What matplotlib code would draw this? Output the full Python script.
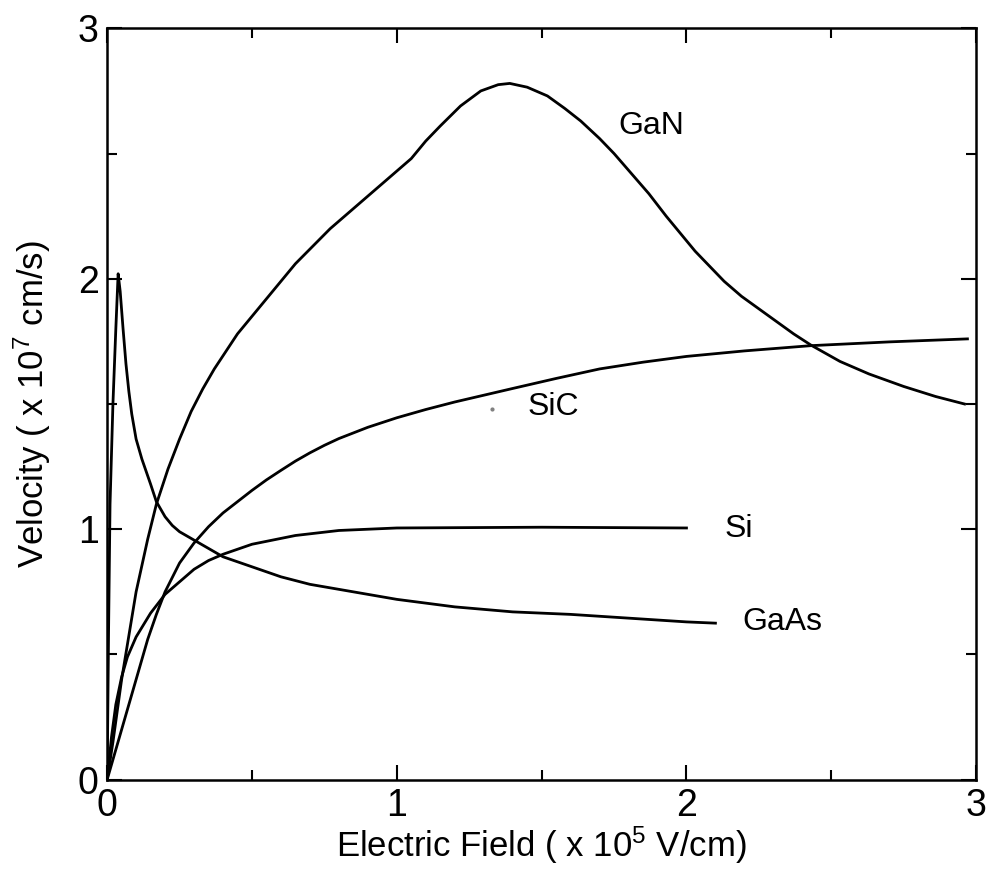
import matplotlib
matplotlib.use("Agg")
import matplotlib.pyplot as plt
from matplotlib.ticker import MultipleLocator

plt.rcParams['font.family'] = ['Liberation Sans', 'DejaVu Sans']
plt.rcParams['mathtext.fontset'] = 'custom'
plt.rcParams['mathtext.rm'] = 'Liberation Sans'
plt.rcParams['mathtext.it'] = 'Liberation Sans:italic'

# Electric field (x 1e5 V/cm) and velocity (x 1e7 cm/s)
gan_field = [0, 0.02, 0.05, 0.1, 0.14, 0.17, 0.21, 0.25, 0.29, 0.33, 0.37,
             0.41, 0.45, 0.5, 0.55, 0.6, 0.65, 0.71, 0.77, 0.83, 0.89, 0.95,
             1.0, 1.05, 1.1, 1.15, 1.22, 1.29, 1.35, 1.39, 1.45, 1.52, 1.58,
             1.635, 1.7, 1.75, 1.81, 1.87, 1.93, 1.98, 2.03, 2.08, 2.13, 2.19,
             2.25, 2.31, 2.37, 2.43, 2.53, 2.63, 2.75, 2.86, 2.96]
gan_vel = [0, 0.15, 0.4, 0.75, 0.96, 1.1, 1.24, 1.36, 1.47, 1.56, 1.64,
           1.71, 1.78, 1.85, 1.92, 1.99, 2.06, 2.13, 2.2, 2.26, 2.32, 2.38,
           2.43, 2.48, 2.55, 2.61, 2.69, 2.75, 2.775, 2.78, 2.765, 2.73, 2.68,
           2.63, 2.56, 2.5, 2.42, 2.34, 2.25, 2.18, 2.11, 2.05, 1.99, 1.93,
           1.88, 1.83, 1.78, 1.735, 1.67, 1.62, 1.57, 1.53, 1.5]

sic_field = [0, 0.05, 0.1, 0.14, 0.17, 0.2, 0.25, 0.3, 0.35, 0.4, 0.45, 0.5,
             0.55, 0.6, 0.65, 0.7, 0.75, 0.8, 0.9, 1.0, 1.1, 1.2, 1.3, 1.4,
             1.55, 1.7, 1.85, 2.0, 2.2, 2.43, 2.7, 2.97]
sic_vel = [0, 0.2, 0.4, 0.56, 0.66, 0.75, 0.865, 0.945, 1.01, 1.065, 1.11,
           1.155, 1.197, 1.235, 1.272, 1.305, 1.335, 1.362, 1.407, 1.445,
           1.478, 1.508, 1.535, 1.562, 1.602, 1.64, 1.667, 1.69, 1.712, 1.733,
           1.748, 1.76]

si_field = [0, 0.015, 0.03, 0.05, 0.07, 0.1, 0.15, 0.2, 0.25, 0.3, 0.35,
            0.4, 0.5, 0.65, 0.8, 1.0, 1.5, 2.0]
si_vel = [0, 0.17, 0.3, 0.41, 0.49, 0.57, 0.665, 0.74, 0.79, 0.84, 0.875,
          0.9, 0.94, 0.975, 0.995, 1.005, 1.008, 1.005]

gaas_field = [0, 0.005, 0.01, 0.02, 0.03, 0.038, 0.045, 0.055, 0.065, 0.075,
              0.085, 0.1, 0.12, 0.15, 0.17, 0.2, 0.225, 0.25, 0.31, 0.4, 0.5,
              0.6, 0.7, 0.85, 1.0, 1.2, 1.4, 1.6, 1.8, 2.0, 2.1]
gaas_vel = [0, 0.6, 1.1, 1.5, 1.8, 2.02, 1.95, 1.8, 1.66, 1.55, 1.46, 1.36,
            1.28, 1.18, 1.11, 1.05, 1.015, 0.99, 0.95, 0.89, 0.85, 0.81, 0.78,
            0.75, 0.72, 0.69, 0.67, 0.66, 0.645, 0.63, 0.625]

labels = ['GaN', 'SiC', 'Si', 'GaAs']
label_x = [1.88, 1.54, 2.18, 2.33]
label_y = [2.61, 1.49, 1.0, 0.63]

fig = plt.figure(figsize=(9.92, 8.85), dpi=100)
ax = fig.add_axes([0.108, 0.119, 0.876, 0.849])

for xs, ys in [(gan_field, gan_vel), (sic_field, sic_vel),
               (si_field, si_vel), (gaas_field, gaas_vel)]:
    ax.plot(xs, ys, color='black', linewidth=2.0, solid_joinstyle='round')

for name, lx, ly in zip(labels, label_x, label_y):
    ax.text(lx, ly, name, fontsize=23, ha='center', va='center')

# small speck next to the SiC label in the original scan
ax.plot([1.33], [1.48], marker='o', markersize=2, color='0.5')

ax.set_xlim(0, 3)
ax.set_ylim(0, 3)
ax.xaxis.set_major_locator(MultipleLocator(1))
ax.xaxis.set_minor_locator(MultipleLocator(0.5))
ax.yaxis.set_major_locator(MultipleLocator(1))
ax.yaxis.set_minor_locator(MultipleLocator(0.5))
ax.tick_params(which='both', direction='in', top=True, right=True,
               width=1.5, labelsize=27, pad=6)
ax.tick_params(which='major', length=11)
ax.tick_params(which='minor', length=7)
for sp in ax.spines.values():
    sp.set_linewidth(1.8)

ax.set_xlabel('Electric Field ( x 10$^5$ V/cm)', fontsize=25, labelpad=0)
ax.set_ylabel('Velocity ( x 10$^7$ cm/s)', fontsize=25, labelpad=18)

fig.savefig('out.png', dpi=100, facecolor='white')
